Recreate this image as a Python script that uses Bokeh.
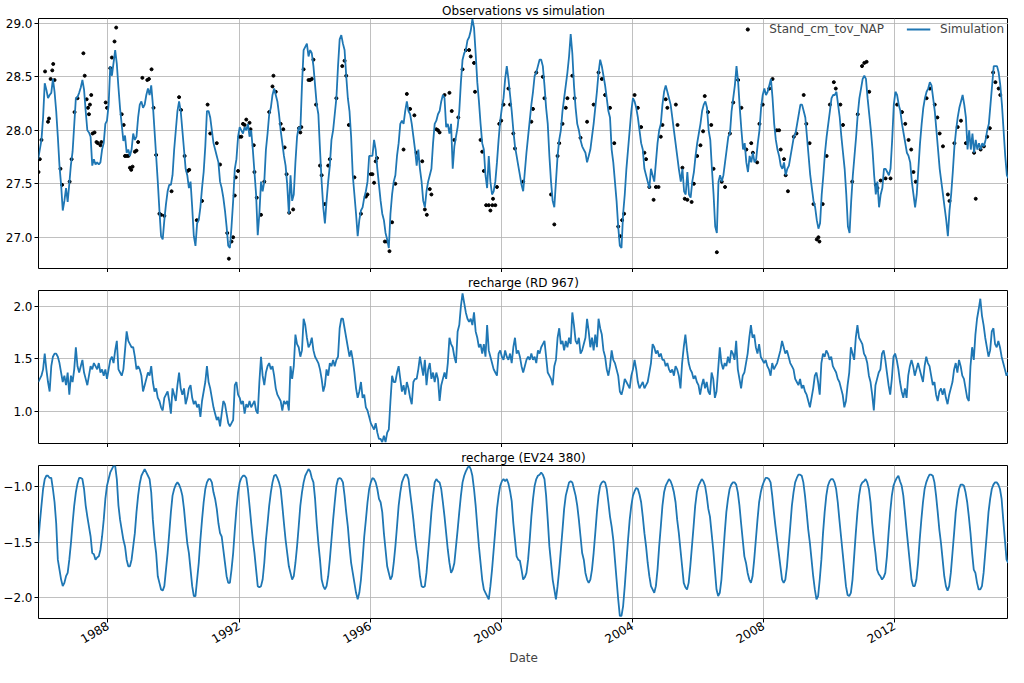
import math
import numpy as np
from bokeh.plotting import figure
from bokeh.layouts import column
from bokeh.models import (Range1d, FixedTicker, PrintfTickFormatter, CustomJSTickFormatter,
                          CustomLabelingPolicy, Title, Legend, LegendItem)
from bokeh.embed import file_html
from bokeh.resources import INLINE

# ---------------- data (decimal years) ----------------
STEP = 0.05  # sampling interval of the simulated series, in years

# Simulation (Observations vs simulation panel), three consecutive segments
sim_a_start = 1985.87
sim_a = [27.73, 27.82, 27.91, 28.12, 28.44, 28.38, 28.30, 28.33, 28.35, 28.48, 28.36, 28.18, 27.94, 27.67, 27.49,
         27.25, 27.34, 27.46, 27.33, 27.50, 27.68, 27.80, 28.05, 28.30, 28.31, 28.35, 28.40, 28.47, 28.38, 28.18,
         28.00, 27.98, 27.94, 27.67, 27.73, 27.68, 27.70, 27.68, 27.70, 27.82, 27.88, 28.06, 28.09, 28.24, 28.60,
         28.51, 28.63, 28.75, 28.62, 28.40, 28.20, 28.05, 27.90, 27.95, 27.79, 27.82, 27.76, 27.82, 27.97, 27.91,
         27.94, 28.12, 28.24, 28.27, 28.21, 28.24, 28.33, 28.39, 28.33, 28.42, 28.24, 28.00, 27.76, 27.52, 27.25,
         27.01, 26.98, 27.16, 27.31, 27.43, 27.49, 27.49, 27.58, 27.82, 28.00, 28.18, 28.27, 28.18, 28.00, 27.82,
         27.64, 27.58, 27.46, 27.52, 27.28, 27.01, 26.92, 27.13, 27.16, 27.28, 27.46, 27.61, 27.85, 28.18, 28.18,
         28.12, 28.00, 27.88, 27.82, 27.76, 27.70, 27.52, 27.46, 27.37, 27.25, 27.10, 26.92, 26.90, 27.10, 27.34,
         27.64, 27.73, 27.94, 28.03, 28.00, 27.97, 28.03, 28.00, 28.06, 27.94, 28.00, 27.82, 27.61, 27.40, 27.02,
         27.22, 27.52, 27.43, 27.52, 27.82, 27.97, 28.15, 28.21, 28.33, 28.39, 28.33, 28.27, 28.15, 28.00, 27.88,
         27.76, 27.67, 27.49, 27.22, 27.58, 27.34, 27.40, 27.70, 27.94, 28.03, 28.00, 28.42, 28.75, 28.78, 28.81,
         28.69, 28.75, 28.72, 28.60, 28.42, 28.24, 28.15, 27.82, 27.52, 27.28, 27.13, 27.34, 27.52, 27.67, 27.91,
         28.00, 28.15, 28.30]
sim_b_start = 1995.02
sim_b = [28.60, 28.85, 28.89, 28.81, 28.75, 28.51, 28.30, 28.18, 27.94, 27.58, 27.40, 27.22, 27.01, 27.16, 27.25,
         27.28, 27.37, 27.43, 27.52, 27.76, 27.76, 27.76, 27.91, 27.82, 27.64, 27.49, 27.34, 27.22, 27.16, 27.04,
         26.98, 26.90, 27.22, 27.40, 27.52, 27.58, 27.76, 27.88, 28.06, 28.09, 28.06, 28.18, 28.27, 28.18, 28.15,
         28.06, 27.94, 27.82, 27.67, 27.82, 27.64, 27.52, 27.34, 27.28, 27.43, 27.52, 27.58, 27.64, 27.88, 28.06,
         28.09, 28.15, 28.18, 28.27, 28.33, 28.30, 28.03, 28.06, 27.97, 28.06, 27.64, 27.85, 27.94, 28.03, 28.18,
         28.45, 28.66, 28.72, 28.75, 28.84, 28.87, 28.93, 29.04, 28.96, 28.72, 28.45, 28.27, 28.06, 27.88, 27.82,
         27.58, 27.46, 27.76, 27.52, 27.40, 27.43, 27.52, 27.70, 27.91, 28.09, 28.21, 28.30, 28.48, 28.60, 28.48,
         28.33, 28.18, 28.00, 27.85, 27.76, 27.67, 27.58, 27.49, 27.43, 27.61, 27.79, 27.94, 28.09, 28.24, 28.36,
         28.51, 28.54, 28.60, 28.66, 28.66, 28.60, 28.42, 28.21, 28.06, 27.76, 27.52, 27.34, 27.28, 27.52, 27.76,
         27.91, 28.00, 28.18, 28.30, 28.42, 28.54, 28.69, 28.90, 28.72, 28.42, 28.21, 28.06, 28.00, 27.91, 27.85,
         27.82, 27.79, 27.70, 27.76, 27.82, 27.94, 28.06, 28.21, 28.36, 28.54, 28.66, 28.60, 28.51, 28.42, 28.30,
         28.18, 28.12, 27.82, 27.70, 27.52, 27.34, 27.10, 26.92, 26.90, 27.22, 27.40, 27.64, 27.82, 28.00, 28.18,
         28.30, 28.27, 28.21, 28.12, 28.00, 27.88, 27.82, 27.64, 27.58, 27.52, 27.46, 27.64, 27.58, 27.52, 27.70,
         27.88, 28.00, 28.06, 28.24, 28.36, 28.42, 28.36, 28.30, 28.24, 28.12, 28.00, 27.88, 27.76, 27.64]
sim_c_start = 2005.48
sim_c = [27.52, 27.64, 27.43, 27.40, 27.61, 27.40, 27.37, 27.52, 27.61, 27.76, 27.88, 27.97, 28.06, 28.18, 28.24,
         28.27, 28.21, 28.00, 27.91, 27.64, 27.40, 27.10, 27.04, 27.52, 27.58, 27.52, 27.58, 27.70, 27.82, 27.94,
         27.97, 28.18, 28.30, 28.42, 28.60, 28.45, 28.21, 28.00, 27.82, 27.88, 27.70, 27.61, 27.76, 27.70, 27.79,
         27.70, 27.73, 27.88, 28.00, 28.21, 28.33, 28.39, 28.33, 28.36, 28.42, 28.48, 28.30, 28.06, 27.91, 27.82,
         27.76, 27.67, 27.64, 27.70, 27.58, 27.64, 27.67, 27.76, 27.85, 27.94, 27.97, 28.06, 28.15, 28.24, 28.24,
         28.18, 28.12, 27.94, 27.76, 27.58, 27.46, 27.34, 27.28, 27.16, 27.08, 27.13, 27.40, 27.58, 27.79, 27.94,
         28.06, 28.18, 28.30, 28.33, 28.33, 28.36, 28.24, 28.12, 27.94, 27.79, 27.64, 27.40, 27.10, 27.04, 27.34,
         27.58, 27.76, 27.94, 28.15, 28.30, 28.39, 28.48, 28.51, 28.48, 28.30, 28.15, 28.00, 27.82, 27.58, 27.40,
         27.52, 27.28, 27.40, 27.46, 27.64, 27.64, 27.61, 27.58, 27.64, 27.91, 28.24, 28.36, 28.33, 28.24, 28.18,
         28.06, 27.97, 27.88, 27.79, 27.76, 27.70, 27.52, 27.40, 27.28, 27.40, 27.64, 27.88, 28.06, 28.21, 28.30,
         28.36, 28.39, 28.45, 28.42, 28.30, 28.18, 28.00, 27.82, 27.64, 27.52, 27.40, 27.28, 27.16, 27.01, 27.25,
         27.40, 27.61, 27.85, 28.00, 28.12, 28.21, 28.27, 28.33, 28.24, 28.12, 27.82, 28.00, 27.82, 27.97, 27.79,
         27.91, 27.82, 27.88, 27.82, 27.88, 27.85, 27.91, 28.00, 28.06, 28.24, 28.42, 28.60, 28.60, 28.60, 28.54,
         28.42, 28.24, 28.00, 27.76, 27.58, 27.55]

# Observations (Stand_cm_tov_NAP)
obs_year = [1985.88, 1985.92, 1985.97, 1986.08, 1986.17, 1986.20, 1986.25, 1986.30, 1986.33, 1986.37, 1986.55,
            1986.60, 1986.83, 1986.89, 1986.98, 1987.07, 1987.25, 1987.29, 1987.35, 1987.39, 1987.42, 1987.45,
            1987.49, 1987.53, 1987.59, 1987.65, 1987.69, 1987.77, 1987.80, 1987.93, 1987.97, 1988.07, 1988.12,
            1988.20, 1988.25, 1988.42, 1988.48, 1988.52, 1988.57, 1988.62, 1988.67, 1988.71, 1988.75, 1988.82,
            1988.87, 1988.92, 1989.05, 1989.20, 1989.25, 1989.33, 1989.39, 1989.47, 1989.57, 1989.62, 1989.72,
            1989.94, 1990.17, 1990.23, 1990.34, 1990.43, 1990.48, 1990.71, 1990.87, 1991.04, 1991.12, 1991.32,
            1991.42, 1991.64, 1991.69, 1991.77, 1991.82, 1991.87, 1991.90, 1991.97, 1992.02, 1992.07, 1992.12,
            1992.17, 1992.22, 1992.32, 1992.35, 1992.45, 1992.47, 1992.54, 1992.67, 1992.77, 1992.92, 1993.02,
            1993.05, 1993.12, 1993.27, 1993.35, 1993.39, 1993.45, 1993.53, 1993.65, 1993.83, 1993.87, 1993.90,
            1993.97, 1994.12, 1994.17, 1994.22, 1994.27, 1994.35, 1994.47, 1994.52, 1994.62, 1994.72, 1994.77,
            1994.97, 1995.15, 1995.22, 1995.27, 1995.35, 1995.52, 1995.72, 1995.87, 1995.92, 1996.02, 1996.07,
            1996.12, 1996.17, 1996.21, 1996.45, 1996.52, 1996.59, 1996.67, 1996.77, 1997.02, 1997.12, 1997.22,
            1997.35, 1997.42, 1997.59, 1997.67, 1997.73, 1997.82, 1997.87, 1998.02, 1998.07, 1998.12, 1998.27,
            1998.42, 1998.49, 1998.57, 1998.69, 1998.82, 1998.92, 1999.02, 1999.07, 1999.17, 1999.20, 1999.37,
            1999.42, 1999.47, 1999.54, 1999.62, 1999.67, 1999.73, 1999.75, 1999.82, 1999.87, 1999.94, 2000.00,
            2000.07, 2000.22, 2000.27, 2000.37, 2000.42, 2000.67, 2000.92, 2000.97, 2001.07, 2001.27, 2001.32,
            2001.52, 2001.62, 2001.72, 2001.77, 2001.87, 2001.97, 2002.02, 2002.17, 2002.24, 2002.42, 2002.62,
            2002.82, 2002.97, 2003.07, 2003.17, 2003.32, 2003.45, 2003.57, 2003.63, 2003.69, 2003.75, 2004.07,
            2004.17, 2004.27, 2004.37, 2004.42, 2004.52, 2004.65, 2004.72, 2004.80, 2004.87, 2004.92, 2005.02,
            2005.07, 2005.33, 2005.38, 2005.53, 2005.60, 2005.68, 2005.81, 2005.88, 2005.98, 2006.08, 2006.16,
            2006.21, 2006.31, 2006.41, 2006.48, 2006.58, 2006.73, 2006.83, 2006.98, 2007.08, 2007.23, 2007.33,
            2007.48, 2007.63, 2007.68, 2007.81, 2007.88, 2007.98, 2008.18, 2008.28, 2008.41, 2008.48, 2008.53,
            2008.63, 2008.68, 2008.75, 2008.93, 2009.01, 2009.23, 2009.31, 2009.41, 2009.53, 2009.63, 2009.68,
            2009.71, 2009.81, 2009.93, 2010.03, 2010.15, 2010.21, 2010.35, 2010.43, 2010.71, 2010.88, 2011.01,
            2011.08, 2011.15, 2011.23, 2011.43, 2011.48, 2011.58, 2011.73, 2011.88, 2012.08, 2012.23, 2012.33,
            2012.43, 2012.51, 2012.58, 2012.65, 2012.98, 2013.08, 2013.23, 2013.31, 2013.38, 2013.48, 2013.63,
            2013.68, 2013.83, 2013.93, 2014.03, 2014.18, 2014.43, 2014.48, 2014.63, 2014.73, 2014.83, 2014.91,
            2015.01, 2015.08, 2015.18, 2015.23]
obs_val = [27.61, 27.73, 27.91, 28.55, 28.08, 28.11, 28.48, 28.56, 28.62, 28.47, 27.64,
           27.49, 27.52, 27.73, 28.17, 28.30, 28.72, 28.51, 28.29, 28.21, 28.15, 28.24,
           28.33, 27.97, 27.98, 27.89, 27.88, 27.86, 27.89, 28.26, 28.21, 28.58, 28.68,
           28.83, 28.96, 28.15, 28.05, 27.76, 27.76, 27.76, 27.65, 27.63, 27.66, 27.80,
           27.81, 27.89, 28.49, 28.47, 28.48, 28.57, 28.21, 27.77, 27.22, 27.21, 27.20,
           27.43, 28.31, 28.19, 27.76, 27.62, 27.63, 27.16, 27.34, 28.24, 27.97, 27.88,
           27.68, 27.04, 26.80, 26.96, 27.00, 27.39, 27.56, 27.62, 27.94, 27.94, 28.06,
           28.05, 28.10, 28.07, 28.01, 27.86, 27.61, 27.37, 27.21, 27.52, 28.17, 28.41,
           28.51, 28.36, 28.06, 28.01, 27.84, 27.59, 27.23, 27.26, 28.02, 27.98, 28.03,
           28.57, 28.47, 28.47, 28.48, 28.66, 28.24, 27.67, 27.58, 27.31, 27.67, 27.73,
           28.30, 28.60, 28.65, 28.51, 28.05, 27.56, 27.22, 27.38, 27.40, 27.59, 27.59,
           27.51, 27.71, 27.74, 26.96, 26.96, 26.87, 27.14, 27.50, 27.82, 28.34, 28.20,
           28.14, 27.79, 27.71, 27.26, 27.21, 27.45, 27.40, 28.01, 28.00, 27.98, 28.33,
           28.35, 28.18, 27.91, 28.12, 28.57, 28.75, 28.75, 28.69, 28.63, 28.36, 27.91,
           27.80, 27.62, 27.30, 27.30, 27.25, 27.30, 27.36, 27.30, 27.47, 28.06, 28.09,
           28.24, 28.39, 28.24, 27.97, 27.83, 27.52, 28.08, 28.20, 28.54, 28.50, 28.30,
           27.40, 27.12, 27.76, 27.88, 28.06, 28.21, 28.30, 28.51, 28.30, 27.93, 28.08,
           28.24, 28.54, 28.48, 28.33, 28.21, 27.88, 27.10, 27.01, 27.16, 27.22, 28.33,
           28.21, 28.03, 27.79, 27.73, 27.47, 27.35, 27.47, 27.47, 27.94, 28.05, 28.29,
           28.21, 28.24, 28.05, 27.65, 27.36, 27.35, 27.33, 27.50, 27.76, 27.86, 27.99,
           28.32, 28.17, 28.05, 27.64, 26.86, 27.52, 27.47, 27.97, 28.26, 28.47, 28.21,
           27.82, 27.88, 27.79, 27.70, 28.06, 28.24, 28.39, 28.48, 28.00, 28.00, 27.82,
           27.73, 27.58, 27.43, 27.94, 27.97, 28.33, 28.06, 27.88, 27.31, 26.98, 27.00,
           26.96, 27.31, 27.76, 28.24, 28.45, 28.39, 28.24, 28.05, 27.52, 28.15, 28.60,
           28.63, 28.64, 28.36, 27.49, 27.46, 27.53, 27.55, 27.55, 28.24, 28.17, 28.06,
           27.91, 27.82, 27.61, 27.52, 28.30, 28.39, 28.24, 28.12, 27.97, 27.85, 27.40,
           27.34, 27.88, 28.03, 28.09, 27.88, 27.79, 27.36, 27.82, 27.85, 27.94, 28.02,
           28.54, 28.45, 28.39, 28.33]

# recharge (RD 967)
rd_a_start = 1985.87
rd_a = [1.28, 1.31, 1.34, 1.40, 1.55, 1.40, 1.28, 1.19, 1.43, 1.52, 1.55, 1.55, 1.52, 1.46, 1.37, 1.28, 1.34, 1.25,
        1.37, 1.16, 1.34, 1.28, 1.40, 1.61, 1.43, 1.37, 1.43, 1.49, 1.37, 1.31, 1.25, 1.34, 1.43, 1.40, 1.46, 1.43,
        1.40, 1.46, 1.37, 1.40, 1.34, 1.40, 1.31, 1.40, 1.49, 1.52, 1.46, 1.58, 1.67, 1.40, 1.37, 1.34, 1.40, 1.58,
        1.76, 1.67, 1.64, 1.61, 1.61, 1.52, 1.40, 1.43, 1.40, 1.34, 1.19, 1.25, 1.31, 1.37, 1.34, 1.43, 1.28, 1.19,
        1.22, 1.13, 1.10, 1.04, 1.01, 1.13, 1.16, 1.19, 1.10, 0.98, 1.22, 1.16, 1.10, 1.25, 1.37, 1.22, 1.16, 1.22,
        1.07, 1.13, 1.22, 1.25, 1.13, 1.07, 1.10, 1.04, 1.07, 0.95, 1.10, 1.19, 1.28, 1.43, 1.28, 1.22, 1.13, 1.04,
        0.98, 0.92, 0.95, 0.86, 0.98, 1.10, 1.07, 0.98, 0.89, 0.86, 0.89, 0.92, 1.25, 1.28, 1.16, 1.13, 1.07, 1.10,
        0.98, 1.07, 1.04, 1.10, 1.04, 1.07, 1.10, 1.01, 0.98, 1.28, 1.52, 1.34, 1.25, 1.37, 1.43, 1.46, 1.40, 1.43,
        1.34, 1.22, 1.16, 1.13, 1.10, 1.01, 1.10, 1.07, 1.10, 1.01, 1.43, 1.31, 1.43, 1.73, 1.64, 1.61, 1.52, 1.58,
        1.88, 1.82, 1.70, 1.61, 1.64, 1.70, 1.58, 1.52, 1.49, 1.46, 1.40, 1.31, 1.19, 1.25, 1.40, 1.34, 1.46, 1.43,
        1.49, 1.43, 1.49, 1.52, 1.79, 1.88, 1.88, 1.79, 1.70, 1.61, 1.52, 1.58, 1.49, 1.37, 1.22, 1.13, 1.19, 1.28,
        1.13, 1.16, 1.04, 1.01, 0.95, 0.89, 0.86, 0.83, 0.89, 0.80, 0.74, 0.74, 0.71, 0.77, 0.71, 0.80, 0.83, 1.10,
        1.34, 1.28, 1.28, 1.37, 1.43, 1.31, 1.19, 1.25, 1.16, 1.28, 1.22, 1.13, 1.07, 1.28, 1.31, 1.31, 1.40, 1.52,
        1.43, 1.34, 1.49, 1.25, 1.40, 1.46, 1.31, 1.37, 1.28, 1.37, 1.31, 1.10, 1.25, 1.31, 1.37, 1.31, 1.46, 1.70,
        1.64, 1.61, 1.52, 1.46, 1.76, 1.82, 2.00, 2.12, 2.03, 1.94, 1.88, 1.85, 1.88, 1.82, 1.94, 1.76, 1.70, 1.61,
        1.64, 1.55, 1.64, 1.52, 1.82, 1.58, 1.52, 1.46, 1.40, 1.37, 1.34, 1.55, 1.58, 1.52, 1.49, 1.58, 1.52, 1.49,
        1.55, 1.46]
rd_b_start = 2000.37
rd_b = [1.61, 1.70, 1.55, 1.58, 1.52, 1.43, 1.37, 1.43, 1.49, 1.52, 1.49, 1.55, 1.49, 1.52, 1.46, 1.58, 1.55, 1.61,
        1.64, 1.67, 1.52, 1.37, 1.34, 1.31, 1.25, 1.43, 1.49, 1.70, 1.79, 1.64, 1.67, 1.58, 1.67, 1.61, 1.70, 1.64,
        1.94, 1.82, 1.67, 1.64, 1.70, 1.55, 1.58, 1.64, 1.70, 1.88, 1.76, 1.61, 1.70, 1.58, 1.73, 1.61, 1.88, 1.79,
        1.73, 1.58, 1.52, 1.40, 1.34, 1.43, 1.58, 1.49, 1.46, 1.40, 1.34, 1.19, 1.16, 1.22, 1.31, 1.28, 1.25, 1.22,
        1.34, 1.40, 1.49, 1.40, 1.28, 1.22, 1.25, 1.28, 1.22, 1.25, 1.28, 1.37, 1.46, 1.64, 1.61, 1.55, 1.58, 1.52,
        1.55, 1.49, 1.49, 1.43, 1.46, 1.40, 1.37, 1.40, 1.34, 1.43, 1.40, 1.34, 1.22, 1.46, 1.61, 1.73, 1.58, 1.46,
        1.40, 1.37, 1.31, 1.34, 1.28, 1.25, 1.16, 1.25, 1.31, 1.22, 1.28, 1.19, 1.16, 1.37, 1.31, 1.13, 1.19, 1.40,
        1.61, 1.46, 1.40, 1.46, 1.43, 1.52, 1.46, 1.58, 1.55, 1.49, 1.67, 1.40, 1.31, 1.22, 1.34, 1.37, 1.46, 1.55,
        1.70, 1.82, 1.70, 1.73, 1.61, 1.55, 1.64, 1.52, 1.49, 1.46, 1.49, 1.43, 1.40, 1.34, 1.46, 1.40, 1.43, 1.46,
        1.52, 1.58, 1.67, 1.61, 1.55, 1.58, 1.52, 1.46, 1.43, 1.40, 1.31, 1.28, 1.25, 1.31, 1.22, 1.25, 1.19, 1.16,
        1.10, 1.04, 1.13, 1.22, 1.34, 1.37, 1.28, 1.16, 1.46, 1.55, 1.52, 1.58, 1.55, 1.49, 1.52, 1.43, 1.40, 1.37,
        1.31, 1.28, 1.22, 1.16, 1.04, 1.10, 1.25, 1.37, 1.61, 1.55, 1.49, 1.70, 1.82, 1.70, 1.67, 1.64, 1.55, 1.52,
        1.46, 1.34, 1.28, 1.16, 1.01, 1.25, 1.31, 1.37, 1.40, 1.55, 1.58, 1.49, 1.37, 1.25, 1.16, 1.31, 1.52, 1.55,
        1.49, 1.40, 1.28, 1.19, 1.13, 1.22, 1.13, 1.34, 1.43, 1.49, 1.43, 1.34, 1.40, 1.46, 1.40, 1.34, 1.28, 1.43,
        1.52, 1.46, 1.43, 1.34, 1.25, 1.28, 1.16, 1.10, 1.19, 1.22, 1.16, 1.22, 1.13, 1.07, 1.16, 1.22, 1.28, 1.40,
        1.46, 1.37, 1.49, 1.43, 1.34, 1.31, 1.22, 1.13, 1.10, 1.43, 1.61, 1.49, 1.73, 1.88, 1.97, 2.07, 1.91, 1.82,
        1.70, 1.61, 1.52, 1.58, 1.76, 1.79, 1.64, 1.61, 1.67, 1.61, 1.52, 1.46, 1.40, 1.34, 1.37]

# recharge (EV24 380)
ev_a_start = 1985.87
ev_a = [-1.51, -1.33, -1.17, -1.02, -0.93, -0.90, -0.90, -0.92, -0.92, -1.02, -1.14, -1.33, -1.66, -1.75, -1.84,
        -1.90, -1.87, -1.81, -1.78, -1.66, -1.51, -1.33, -1.17, -1.05, -0.97, -0.92, -0.92, -0.93, -1.02, -1.17,
        -1.27, -1.36, -1.45, -1.60, -1.61, -1.66, -1.64, -1.63, -1.57, -1.45, -1.30, -1.11, -0.99, -0.93, -0.87,
        -0.84, -0.81, -0.81, -0.93, -1.17, -1.30, -1.39, -1.48, -1.54, -1.66, -1.72, -1.72, -1.66, -1.54, -1.42,
        -1.23, -1.08, -0.97, -0.90, -0.87, -0.84, -0.87, -0.90, -0.93, -1.05, -1.30, -1.48, -1.60, -1.81, -1.87,
        -1.93, -1.94, -1.90, -1.75, -1.60, -1.42, -1.23, -1.08, -1.02, -0.98, -0.96, -0.98, -1.02, -1.08, -1.20,
        -1.36, -1.51, -1.60, -1.75, -1.90, -1.99, -1.99, -1.84, -1.69, -1.48, -1.30, -1.14, -1.02, -0.96, -0.93,
        -0.93, -0.96, -1.05, -1.11, -1.20, -1.33, -1.42, -1.45, -1.57, -1.69, -1.81, -1.87, -1.87, -1.75, -1.60,
        -1.39, -1.20, -1.05, -0.96, -0.92, -0.90, -0.90, -0.92, -1.02, -1.17, -1.33, -1.48, -1.60, -1.75, -1.90,
        -1.91, -1.90, -1.84, -1.69, -1.48, -1.33, -1.17, -1.05, -0.96, -0.90, -0.89, -0.92, -0.96, -1.02, -1.17,
        -1.33, -1.48, -1.60, -1.72, -1.78, -1.84, -1.81, -1.69, -1.54, -1.36, -1.17, -1.05, -0.96, -0.90, -0.87,
        -0.84, -0.86, -0.92, -0.96, -1.11, -1.33, -1.51, -1.66, -1.84, -1.90, -1.93, -1.90, -1.81, -1.66, -1.48,
        -1.30, -1.14, -0.99, -0.93, -0.92, -0.93, -0.96, -1.08, -1.23, -1.36, -1.54, -1.69, -1.78, -1.87, -1.96,
        -2.02, -1.96, -1.84, -1.66, -1.45, -1.30, -1.14, -1.02, -0.96, -0.92, -0.93, -0.96, -1.02, -1.11, -1.14,
        -1.23, -1.42, -1.57, -1.72, -1.78, -1.84, -1.81, -1.69, -1.54, -1.36, -1.17, -1.05, -0.96, -0.92, -0.89,
        -0.89, -0.93, -1.05, -1.17, -1.30, -1.45, -1.57, -1.66, -1.81, -1.90, -1.91, -1.90, -1.78, -1.60, -1.42,
        -1.23, -1.08, -0.96, -0.93, -0.95, -0.96, -1.02, -1.14, -1.27, -1.42, -1.57, -1.69, -1.78, -1.75, -1.69,
        -1.54, -1.39, -1.23, -1.08, -0.96, -0.90, -0.86, -0.83, -0.81, -0.84, -0.90, -1.02, -1.17, -1.36, -1.54,
        -1.69, -1.84, -1.93, -1.96, -1.99, -2.02, -1.90, -1.75, -1.57, -1.39, -1.20, -1.08, -0.99, -0.95, -0.93,
        -0.95, -0.93, -0.97, -1.04, -1.13]
ev_b_start = 2000.37
ev_b = [-1.33, -1.48, -1.63, -1.66, -1.67, -1.75, -1.84, -1.82, -1.78, -1.66, -1.48, -1.27, -1.11, -0.99, -0.93,
        -0.90, -0.89, -0.87, -0.89, -0.93, -1.08, -1.30, -1.54, -1.69, -1.84, -1.93, -2.02, -1.90, -1.75, -1.57,
        -1.39, -1.20, -1.08, -1.02, -0.96, -0.95, -0.96, -1.02, -1.08, -1.17, -1.30, -1.45, -1.60, -1.66, -1.78,
        -1.84, -1.87, -1.84, -1.75, -1.60, -1.42, -1.23, -1.08, -0.99, -0.96, -0.95, -0.96, -1.02, -1.14, -1.27,
        -1.36, -1.48, -1.66, -1.84, -2.02, -2.17, -2.17, -2.08, -1.90, -1.69, -1.48, -1.30, -1.17, -1.08, -1.04,
        -1.01, -1.02, -1.07, -1.14, -1.27, -1.42, -1.54, -1.69, -1.81, -1.90, -1.93, -1.96, -1.90, -1.75, -1.54,
        -1.36, -1.17, -1.05, -0.99, -0.96, -0.93, -0.95, -0.99, -1.05, -1.14, -1.30, -1.42, -1.57, -1.72, -1.87,
        -1.91, -1.93, -1.87, -1.72, -1.54, -1.36, -1.17, -1.05, -0.99, -0.96, -0.93, -0.95, -0.99, -1.08, -1.20,
        -1.27, -1.42, -1.57, -1.75, -1.93, -1.99, -1.96, -1.84, -1.63, -1.42, -1.23, -1.11, -1.02, -0.98, -0.96,
        -0.96, -0.98, -1.05, -1.17, -1.33, -1.48, -1.63, -1.69, -1.78, -1.84, -1.87, -1.81, -1.66, -1.48, -1.30,
        -1.14, -1.05, -0.99, -0.95, -0.92, -0.92, -0.93, -0.96, -1.08, -1.23, -1.36, -1.48, -1.60, -1.72, -1.84,
        -1.87, -1.84, -1.72, -1.54, -1.36, -1.17, -1.05, -0.96, -0.92, -0.89, -0.89, -0.90, -0.96, -1.08, -1.23,
        -1.39, -1.51, -1.66, -1.81, -1.93, -2.02, -1.99, -1.84, -1.66, -1.42, -1.23, -1.08, -0.99, -0.95, -0.93,
        -0.93, -0.96, -1.02, -1.14, -1.30, -1.45, -1.60, -1.75, -1.90, -1.98, -1.99, -1.96, -1.84, -1.63, -1.42,
        -1.23, -1.08, -0.99, -0.96, -0.95, -0.93, -0.96, -1.02, -1.14, -1.33, -1.48, -1.60, -1.75, -1.79, -1.81,
        -1.84, -1.82, -1.78, -1.63, -1.42, -1.23, -1.08, -0.99, -0.95, -0.92, -0.90, -0.95, -0.99, -1.08, -1.23,
        -1.39, -1.54, -1.69, -1.84, -1.90, -1.90, -1.84, -1.69, -1.48, -1.30, -1.14, -1.02, -0.96, -0.92, -0.89,
        -0.89, -0.90, -0.96, -1.08, -1.23, -1.39, -1.51, -1.66, -1.81, -1.90, -1.94, -1.90, -1.78, -1.60, -1.42,
        -1.23, -1.11, -1.02, -0.98, -0.98, -0.99, -1.05, -1.14, -1.27, -1.42, -1.60, -1.75, -1.78, -1.87, -1.93,
        -1.93, -1.90, -1.78, -1.60, -1.42, -1.23, -1.11, -1.02, -0.98, -0.96, -0.96, -0.98, -1.02, -1.11, -1.30,
        -1.48, -1.66, -1.69]

year_ticks = [1988, 1992, 1996, 2000, 2004, 2008, 2012]
top_ticks = [27.0, 27.5, 28.0, 28.5, 29.0]
mid_ticks = [1.0, 1.5, 2.0]
bot_ticks = [-2.0, -1.5, -1.0]


def series(segments):
    xs, ys = [], []
    for start, vals in segments:
        xs.extend((start + STEP * np.arange(len(vals))).tolist())
        ys.extend(vals)
    return xs, ys


sim_x, sim_y = series([(sim_a_start, sim_a), (sim_b_start, sim_b), (sim_c_start, sim_c)])
rd_x, rd_y = series([(rd_a_start, rd_a), (rd_b_start, rd_b)])
ev_x, ev_y = series([(ev_a_start, ev_a), (ev_b_start, ev_b)])

# ---------------- styling ----------------
FONT = "DejaVu Sans"
BLUE = "#1f77b4"
W = 1008
LW = 1.8
xr = Range1d(1985.88, 2015.48)
yfmt_code = "return tick.toFixed(1).replace('-', '\\u2212')"
hide_all_labels = "for (const i of indices) { indices.unset(i) }\nreturn indices"


def make_fig(height, yr, yticks, title, top, bottom, show_xlabels):
    p = figure(width=W, height=height, x_range=xr, y_range=Range1d(*yr),
               output_backend="svg", toolbar_location=None,
               min_border_left=37, min_border_right=0, min_border_top=top, min_border_bottom=bottom)
    p.title = Title(text=title, align="center", text_font=FONT, text_font_size="12px",
                    text_font_style="normal", text_color="black", standoff=2, offset=0)
    p.outline_line_color = "black"
    p.outline_line_width = 1
    p.outline_line_alpha = 1
    p.background_fill_color = "white"
    p.border_fill_color = "white"
    for ax in (p.xaxis[0], p.yaxis[0]):
        ax.axis_line_color = None
        ax.major_tick_line_color = "black"
        ax.major_tick_out = 4
        ax.major_tick_in = 0
        ax.minor_tick_line_color = None
        ax.major_label_text_font = FONT
        ax.major_label_text_font_size = "12px"
        ax.major_label_text_color = "black"
    p.xaxis.ticker = FixedTicker(ticks=year_ticks)
    p.yaxis.ticker = FixedTicker(ticks=yticks)
    p.yaxis.formatter = CustomJSTickFormatter(code=yfmt_code)
    p.yaxis.major_label_standoff = 2
    if show_xlabels:
        p.xaxis.formatter = PrintfTickFormatter(format="%d")
        p.xaxis.major_label_orientation = math.pi / 6
        p.xaxis.major_label_standoff = 2
        p.xaxis.axis_label = "Date"
        p.xaxis.axis_label_text_font = FONT
        p.xaxis.axis_label_text_font_size = "12px"
        p.xaxis.axis_label_text_font_style = "normal"
        p.xaxis.axis_label_standoff = 0
    else:
        # ticks only on the shared time axis of the upper panels, no labels
        p.xaxis.major_label_policy = CustomLabelingPolicy(code=hide_all_labels)
        p.xaxis.major_label_text_font_size = "0px"
        p.xaxis.major_label_standoff = 0
        p.xaxis.axis_label_standoff = 0
    p.grid.grid_line_color = "#b0b0b0"
    p.grid.grid_line_width = 0.8
    return p


p1 = make_fig(272, (26.708, 29.045), top_ticks, "Observations vs simulation", 5, 4, False)
obs_r = p1.scatter(obs_year, obs_val, size=3, marker="circle", color="black")
sim_r = p1.line(sim_x, sim_y, line_color=BLUE, line_width=LW)
legend = Legend(items=[LegendItem(label="Stand_cm_tov_NAP", renderers=[obs_r]),
                       LegendItem(label="Simulation", renderers=[sim_r])],
                location="top_right", orientation="horizontal",
                background_fill_alpha=0, border_line_alpha=0,
                label_text_font=FONT, label_text_font_size="12px",
                glyph_width=24, glyph_height=8, label_standoff=10, spacing=22, margin=2, padding=2)
p1.add_layout(legend)

p2 = make_fig(175, (0.697, 2.148), mid_ticks, "recharge (RD 967)", 5, 4, False)
p2.line(rd_x, rd_y, line_color=BLUE, line_width=LW)

p3 = make_fig(220, (-2.193, -0.807), bot_ticks, "recharge (EV24 380)", 5, 44, True)
p3.line(ev_x, ev_y, line_color=BLUE, line_width=LW)

layout = column(p1, p2, p3, spacing=0)
open("out.html", "w", encoding="utf-8").write(file_html(layout, INLINE))
